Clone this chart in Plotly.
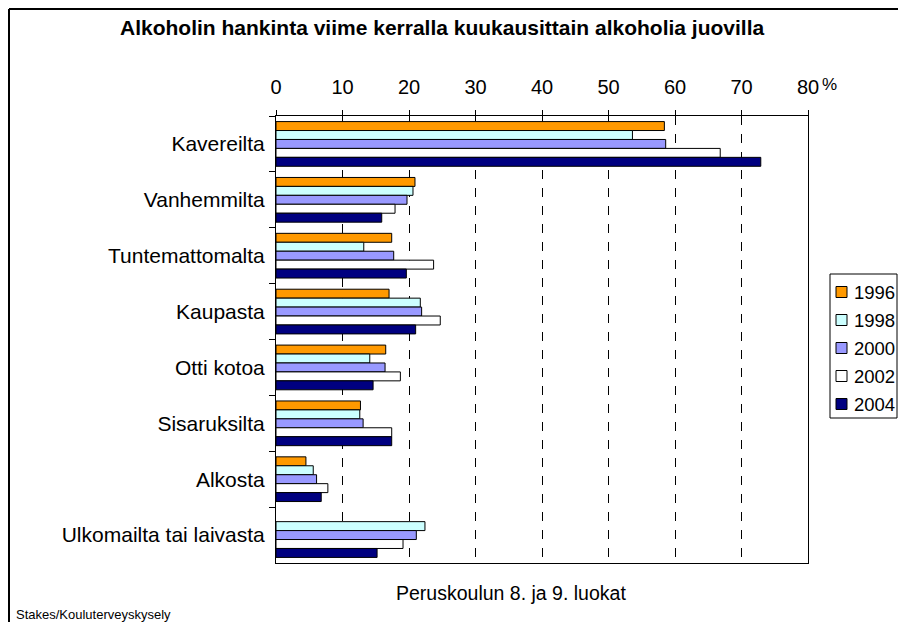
import plotly.graph_objects as go

categories = ["Kavereilta", "Vanhemmilta", "Tuntemattomalta", "Kaupasta",
              "Otti kotoa", "Sisaruksilta", "Alkosta", "Ulkomailta tai laivasta"]
years = ["1996", "1998", "2000", "2002", "2004"]
v1996 = [58.4, 20.9, 17.4, 17.0, 16.5, 12.7, 4.5, None]
v1998 = [53.6, 20.6, 13.2, 21.7, 14.1, 12.6, 5.6, 22.4]
v2000 = [58.6, 19.7, 17.7, 21.9, 16.4, 13.1, 6.1, 21.1]
v2002 = [66.8, 17.9, 23.7, 24.7, 18.7, 17.4, 7.8, 19.1]
v2004 = [72.9, 15.9, 19.6, 21.0, 14.6, 17.4, 6.8, 15.2]
series = [v1996, v1998, v2000, v2002, v2004]
colors = ["#FF9900", "#CCFFFF", "#9999FF", "#FFFFFF", "#000080"]
xticks = [0, 10, 20, 30, 40, 50, 60, 70, 80]

# page geometry (the page body has an 8px margin on every side)
OFF = 8
PW, PH = 906, 630
RIGHT = PW - OFF          # visible right edge of the figure
W, H = RIGHT - OFF, PH - 2 * OFF
L, R, T, B = 276, 808, 116, 563
FONT = "Liberation Sans, Arial, sans-serif"


def px(x):
    return (x - L) / (R - L)


def py(y):
    return (B - y) / (B - T)


fig = go.Figure()
for name, vals, col in zip(years, series, colors):
    fig.add_trace(go.Bar(
        y=categories, x=vals, name=name, orientation="h",
        marker=dict(color=col, line=dict(color="black", width=1)),
        showlegend=False,
    ))

shapes = []
annotations = []

# outer border (top and left)
shapes.append(dict(type="line", xref="paper", yref="paper",
                   x0=px(9), x1=px(RIGHT), y0=py(9), y1=py(9),
                   line=dict(color="black", width=2)))
shapes.append(dict(type="line", xref="paper", yref="paper",
                   x0=px(9), x1=px(9), y0=py(9), y1=py(PH),
                   line=dict(color="black", width=2)))

# manual legend
shapes.append(dict(type="rect", xref="paper", yref="paper",
                   x0=px(830), x1=px(897), y0=py(274), y1=py(418),
                   line=dict(color="black", width=1), fillcolor="white"))
for i, (name, col) in enumerate(zip(years, colors)):
    cy = 292 + 28 * i
    shapes.append(dict(type="rect", xref="paper", yref="paper",
                       x0=px(836), x1=px(847), y0=py(cy - 5.5), y1=py(cy + 5.5),
                       line=dict(color="black", width=1), fillcolor=col))
    annotations.append(dict(text=name, xref="paper", yref="paper",
                            x=px(852), y=py(cy), xanchor="left", yanchor="middle",
                            showarrow=False, font=dict(size=18.5, color="black", family=FONT)))

annotations += [
    dict(text="<b>Alkoholin hankinta viime kerralla kuukausittain alkoholia juovilla</b>",
         xref="paper", yref="paper", x=px(442), y=py(28), xanchor="center", yanchor="middle",
         showarrow=False, font=dict(size=21, color="black", family=FONT)),
    dict(text="%", xref="paper", yref="paper", x=px(829), y=py(84),
         xanchor="center", yanchor="middle", showarrow=False,
         font=dict(size=17, color="black", family=FONT)),
    dict(text="Peruskoulun 8. ja 9. luokat", xref="paper", yref="paper",
         x=px(511), y=py(593), xanchor="center", yanchor="middle", showarrow=False,
         font=dict(size=19.5, color="black", family=FONT)),
    dict(text="Stakes/Kouluterveyskysely", xref="paper", yref="paper",
         x=px(14), y=py(614), xanchor="left", yanchor="middle", showarrow=False,
         font=dict(size=13, color="black", family=FONT)),
]

fig.update_layout(
    width=W, height=H,
    margin=dict(l=L - OFF, r=RIGHT - R, t=T - OFF, b=(PH - OFF) - B, pad=0),
    paper_bgcolor="white", plot_bgcolor="white",
    barmode="group", bargap=0.2, bargroupgap=0,
    font=dict(family=FONT, color="black", size=20),
    shapes=shapes, annotations=annotations,
    xaxis=dict(range=[0, 80], tickvals=xticks, side="top",
               showgrid=True, gridcolor="black", griddash="dash", gridwidth=1,
               showline=True, linecolor="black", linewidth=1, mirror=True,
               ticks="outside", ticklen=5, tickcolor="black",
               ticklabelstandoff=8, zeroline=False,
               tickfont=dict(size=20, family=FONT, color="black")),
    yaxis=dict(autorange="reversed", type="category",
               showline=True, linecolor="black", linewidth=1, mirror=True,
               ticks="outside", ticklen=6, tickcolor="black", tickson="boundaries",
               ticklabelstandoff=6, showgrid=False,
               tickfont=dict(size=21, family=FONT, color="black")),
)

fig.write_html("out.html")
